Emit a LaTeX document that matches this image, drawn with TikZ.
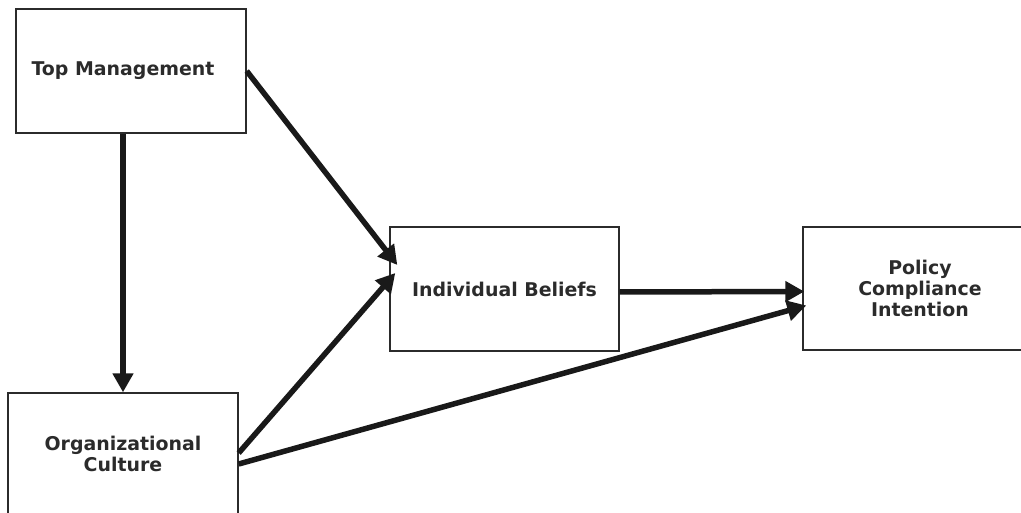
\documentclass[tikz,border=0pt]{standalone}
\usepackage{fontspec}
\setmainfont{DejaVu Sans}
\usetikzlibrary{arrows.meta,calc}
\definecolor{ink}{HTML}{2B2B2B}
\begin{document}
\begin{tikzpicture}[x=1bp,y=-1bp,
  boxfont/.style={font=\fontsize{19}{21.5}\selectfont\bfseries, text=ink},
  box/.style={draw=ink, line width=1.4bp, rectangle, inner sep=0pt,
    align=center, boxfont},
  link/.style={line width=5.5bp, draw=black!90,
    -{Triangle[length=19bp,width=20bp]}}]
  \useasboundingbox (0,0) rectangle (1021,513);
  \clip (0,0) rectangle (1021,513);

  \node[box, minimum width=230bp, minimum height=124bp,
        label={[xshift=-8bp, boxfont]center:Top Management}]
        (tm) at (131,71) {};
  \node[box, minimum width=230bp, minimum height=122bp] (oc) at (123,454)
        {Organizational\\Culture};
  \node[box, minimum width=229bp, minimum height=124bp] (ib) at (504.5,289)
        {Individual Beliefs};
  \node[box, minimum width=234bp, minimum height=123bp] (pci) at (920,288.5)
        {Policy\\Compliance\\Intention};

  \draw[link] (tm.south -| oc.north) -- (oc.north);
  \draw[link] (tm.east) -- ($(ib.west)+(8,-24)$);
  \draw[link] ($(oc.east)+(0,-1)$) -- ($(ib.west)+(6,-16)$);
  \draw[link] ($(ib.east)+(0,3)$) -- ($(pci.west)+(2,3)$);
  \draw[link] ($(oc.east)+(0,10)$) -- ($(pci.west)+(4,17)$);
\end{tikzpicture}
\end{document}
